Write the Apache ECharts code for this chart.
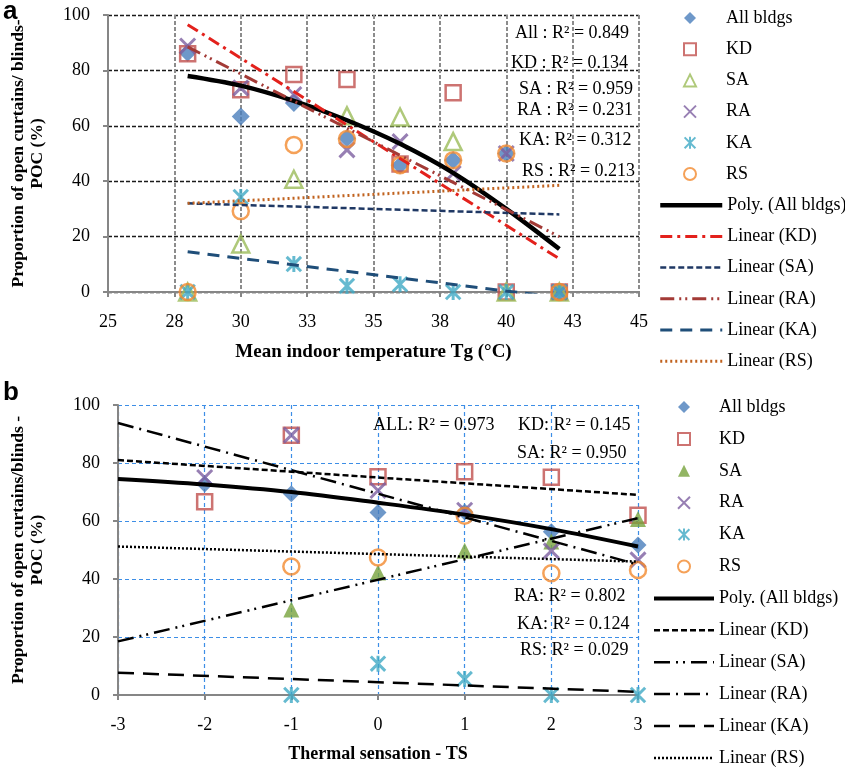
<!DOCTYPE html>
<html><head><meta charset="utf-8">
<script src="https://cdn.jsdelivr.net/npm/echarts@6/dist/echarts.min.js"></script>
<style>html,body{margin:0;padding:0;background:#fff}#c{width:845px;height:769px}</style>
</head><body><div id="c"></div>
<script>
// ---------- Panel a : Mean indoor temperature ----------
const xA = [28, 30, 32, 34, 36, 38, 40, 42];
const allA = [86.4, 63.4, 68.2, 55.5, 45.8, 47.6, 50, 0];
const kdA  = [86, 73, 78.5, 76.7, 46.2, 71.9, 0, 0];
const saA  = [0, 17.3, 40.7, 63.6, 63.2, 54.3, 0, 0];
const raA  = [88.8, 73.7, 71.3, 51.3, 54.3, 42.8, 50, 0];
const kaA  = [0, 34.3, 10.1, 2.2, 2.8, 0, 0, 0];
const rsA  = [0, 29.2, 53.1, 55.2, 45.8, 47.6, 50, 0];
const polyA = [78, 74.5, 69, 62, 53.5, 43, 30, 15.5];
const trendXA = [28, 42];
const linKDA = [96.5, 12];
const linSAA = [32, 28];
const linRAA = [88.5, 20];
const linKAA = [14.5, -2];
const linRSA = [32, 38.5];
const xTicksA = ['25', '28', '30', '33', '35', '38', '40', '43', '45'];
const r2A = ['All : R\u00b2 = 0.849', 'KD : R\u00b2 = 0.134', 'SA : R\u00b2 = 0.959',
             'RA : R\u00b2 = 0.231', 'KA: R\u00b2 = 0.312', 'RS : R\u00b2 = 0.213'];

// ---------- Panel b : Thermal sensation ----------
const xB = [-2, -1, 0, 1, 2, 3];
const allB = [72.8, 69.4, 62.9, 63.1, 56.3, 51.7];
const kdB  = [66.6, 89.6, 75.3, 77, 75.1, 62];
const saB  = [null, 29.5, 42.2, 49.7, 52.9, 60.7];
const raB  = [75, 89.6, 70.5, 63.7, 49.7, 46.6];
const kaB  = [null, 0, 10.8, 5.5, 0, 0];
const rsB  = [null, 44.3, 47.4, 61.8, 42, 43.1];
const polyXB = [-3, -2, -1, 0, 1, 2, 3];
const polyB = [74.5, 72.6, 70, 66.3, 62.2, 57.2, 51.2];
const trendXB = [-3, 3];
const linKDB = [81, 69];
const linSAB = [18.5, 61];
const linRAB = [93.8, 45];
const linKAB = [7.7, 1.1];
const linRSB = [51.2, 46];
const xTicksB = ['-3', '-2', '-1', '0', '1', '2', '3'];
const r2B = ['ALL: R\u00b2 = 0.973', 'KD: R\u00b2 = 0.145', 'SA: R\u00b2 = 0.950',
             'RA: R\u00b2 = 0.802', 'KA: R\u00b2 = 0.124', 'RS: R\u00b2 = 0.029'];

const yTicks = ['0', '20', '40', '60', '80', '100'];
const pointNames = ['All bldgs', 'KD', 'SA', 'RA', 'KA', 'RS'];

// ---------- helpers ----------
const SERIF = 'Liberation Serif';
const X_PATH = 'path://M0,0L10,10M10,0L0,10';
const STAR_PATH = 'path://M5,0L5,10M0.5,0.5L9.5,9.5M9.5,0.5L0.5,9.5';
const T = 'rgba(0,0,0,0)';
const pairs = (xs, ys) => xs.map((x, i) => [x, ys[i]]).filter(p => p[1] !== null);

function scatter(name, gi, data, symbol, size, fill, stroke, bw) {
  return { type: 'scatter', name, xAxisIndex: gi, yAxisIndex: gi, data, symbol, symbolSize: size,
    symbolKeepAspect: true,
    itemStyle: { color: fill, borderColor: stroke, borderWidth: bw }, z: 3, silent: true };
}
function line(name, gi, data, color, width, type, smooth) {
  return { type: 'line', name, xAxisIndex: gi, yAxisIndex: gi, data, symbol: 'none', showSymbol: false,
    smooth: smooth ? 0.35 : false, clip: true,
    lineStyle: { color, width, type, cap: 'butt' }, itemStyle: { color: T, borderWidth: 0 }, z: 4, silent: true };
}

// line styles
const A_LINES = [
  ['a:Poly. (All bldgs)', '#000000', 4.5, 'solid'],
  ['a:Linear (KD)', '#e3211c', 3, [12, 5, 3, 5]],
  ['a:Linear (SA)', '#1f3864', 2.5, [6, 3]],
  ['a:Linear (RA)', '#a33a36', 3, [14, 5, 2, 4, 2, 5]],
  ['a:Linear (KA)', '#1f4e79', 3, [12, 8]],
  ['a:Linear (RS)', '#c0621e', 3, [2, 3]]
];
const B_LINES = [
  ['b:Poly. (All bldgs)', '#000000', 4, 'solid'],
  ['b:Linear (KD)', '#000000', 2.5, [6, 3]],
  ['b:Linear (SA)', '#000000', 2.5, [16, 6, 2, 5, 2, 6]],
  ['b:Linear (RA)', '#000000', 2.5, [16, 6, 2, 6]],
  ['b:Linear (KA)', '#000000', 2.5, [16, 9]],
  ['b:Linear (RS)', '#000000', 2.5, [2, 2]]
];

const series = [
  scatter('a:All bldgs', 0, pairs(xA, allA), 'diamond', 18, '#4a7ebb', '#4a7ebb', 0),
  scatter('a:KD', 0, pairs(xA, kdA), 'rect', 15, T, '#c0504d', 2.5),
  scatter('a:SA', 0, pairs(xA, saA), 'triangle', 17, T, '#9bbb59', 2.5),
  scatter('a:RA', 0, pairs(xA, raA), X_PATH, 15, T, '#7d5fa0', 3),
  scatter('a:KA', 0, pairs(xA, kaA), STAR_PATH, 16, T, '#3fa9c4', 3),
  scatter('a:RS', 0, pairs(xA, rsA), 'circle', 16, T, '#f38a2e', 2.5),
  line(A_LINES[0][0], 0, pairs(xA, polyA), A_LINES[0][1], A_LINES[0][2], A_LINES[0][3], true),
  line(A_LINES[1][0], 0, pairs(trendXA, linKDA), A_LINES[1][1], A_LINES[1][2], A_LINES[1][3]),
  line(A_LINES[2][0], 0, pairs(trendXA, linSAA), A_LINES[2][1], A_LINES[2][2], A_LINES[2][3]),
  line(A_LINES[3][0], 0, pairs(trendXA, linRAA), A_LINES[3][1], A_LINES[3][2], A_LINES[3][3]),
  line(A_LINES[4][0], 0, pairs(trendXA, linKAA), A_LINES[4][1], A_LINES[4][2], A_LINES[4][3]),
  line(A_LINES[5][0], 0, pairs(trendXA, linRSA), A_LINES[5][1], A_LINES[5][2], A_LINES[5][3]),

  scatter('b:All bldgs', 1, pairs(xB, allB), 'diamond', 17, '#4a7ebb', '#4a7ebb', 0),
  scatter('b:KD', 1, pairs(xB, kdB), 'rect', 15, T, '#c0504d', 2.5),
  scatter('b:SA', 1, pairs(xB, saB), 'triangle', 16, '#77a33c', '#77a33c', 0),
  scatter('b:RA', 1, pairs(xB, raB), X_PATH, 15, T, '#7d5fa0', 3),
  scatter('b:KA', 1, pairs(xB, kaB), STAR_PATH, 16, T, '#3fa9c4', 3),
  scatter('b:RS', 1, pairs(xB, rsB), 'circle', 16, T, '#f38a2e', 2.5),
  line(B_LINES[0][0], 1, pairs(polyXB, polyB), B_LINES[0][1], B_LINES[0][2], B_LINES[0][3], true),
  line(B_LINES[1][0], 1, pairs(trendXB, linKDB), B_LINES[1][1], B_LINES[1][2], B_LINES[1][3]),
  line(B_LINES[2][0], 1, pairs(trendXB, linSAB), B_LINES[2][1], B_LINES[2][2], B_LINES[2][3]),
  line(B_LINES[3][0], 1, pairs(trendXB, linRAB), B_LINES[3][1], B_LINES[3][2], B_LINES[3][3]),
  line(B_LINES[4][0], 1, pairs(trendXB, linKAB), B_LINES[4][1], B_LINES[4][2], B_LINES[4][3]),
  line(B_LINES[5][0], 1, pairs(trendXB, linRSB), B_LINES[5][1], B_LINES[5][2], B_LINES[5][3])
];

const lineLegendData = lines => lines.map(l => ({ name: l[0], itemStyle: { opacity: 0, borderWidth: 0, color: T },
  lineStyle: { color: l[1], width: l[2], type: l[3], cap: 'butt' } }));

const axisGray = '#868686';
const lblStyle = { fontFamily: SERIF, fontSize: 18, color: '#000' };
const nameStyle = { fontFamily: SERIF, fontSize: 17.5, fontWeight: 'bold', color: '#000', lineHeight: 19 };

function xAxis(gi, min, max, interval, ticks, name, gridColor, gridW, gridType, gap, nameSize) {
  return { gridIndex: gi, type: 'value', min, max, interval,
    axisLine: { show: true, onZero: false, lineStyle: { color: axisGray, width: 2 } },
    axisTick: { show: true, length: 5, lineStyle: { color: axisGray, width: 2 } },
    axisLabel: { ...lblStyle, margin: 21, showMinLabel: true, showMaxLabel: true,
      formatter: v => ticks[Math.round((v - min) / interval)] },
    splitLine: { show: true, lineStyle: { color: gridColor, width: gridW, type: gridType } },
    name, nameLocation: 'middle', nameGap: gap, nameMoveOverlap: false,
    nameTextStyle: { ...nameStyle, fontSize: nameSize } };
}
function yAxis(gi, name, gridColor, gridW, gridType, gap) {
  return { gridIndex: gi, type: 'value', min: 0, max: 100, interval: 20,
    axisLine: { show: true, onZero: false, lineStyle: { color: axisGray, width: 2 } },
    axisTick: { show: true, length: 5, lineStyle: { color: axisGray, width: 2 } },
    axisLabel: { ...lblStyle, margin: 18, showMinLabel: true, showMaxLabel: true,
      formatter: v => yTicks[Math.round(v / 20)] },
    splitLine: { show: true, lineStyle: { color: gridColor, width: gridW, type: gridType } },
    name, nameLocation: 'middle', nameGap: gap, nameRotate: 90, nameMoveOverlap: false,
    nameTextStyle: { ...nameStyle } };
}

// annotation layout (pixel positions of the R² boxes)
const r2APos = [[515, 33], [511, 63], [519, 89], [517, 110], [519, 140], [522, 171]];
const r2BPos = [[373, 425], [518, 425], [517, 453], [514, 596], [517, 624], [520, 650]];
const graphics = [
  { type: 'text', x: 3, y: 12, style: { text: 'a', font: 'bold 26px "Liberation Sans"', fill: '#000', verticalAlign: 'middle' } },
  { type: 'text', x: 3, y: 393, style: { text: 'b', font: 'bold 26px "Liberation Sans"', fill: '#000', verticalAlign: 'middle' } }
];
r2A.forEach((t, i) => graphics.push({ type: 'text', x: r2APos[i][0], y: r2APos[i][1], z: 10,
  style: { text: t, font: '18px "Liberation Serif"', fill: '#000', align: 'left', verticalAlign: 'middle' } }));
r2B.forEach((t, i) => graphics.push({ type: 'text', x: r2BPos[i][0], y: r2BPos[i][1], z: 10,
  style: { text: t, font: '18px "Liberation Serif"', fill: '#000', align: 'left', verticalAlign: 'middle' } }));

const legendText = { fontFamily: SERIF, fontSize: 18, color: '#000', lineHeight: 18 };
const legendBase = { orient: 'vertical', padding: 0, itemHeight: 12, selectedMode: false,
  textStyle: legendText, formatter: n => n.slice(2) };
// point legends: narrow icon box, text pushed right to line up with line legends
const ptLegend = (prefix, left, top, gap, textPad) => ({ ...legendBase, left, top, itemWidth: 12, itemGap: gap,
  textStyle: { ...legendText, padding: [0, 0, 0, textPad] }, data: pointNames.map(n => prefix + n) });
const lnLegend = (lines, left, top, width, gap) => ({ ...legendBase, left, top, itemWidth: width, itemGap: gap,
  data: lineLegendData(lines) });

const option = {
  animation: false,
  backgroundColor: '#fff',
  grid: [
    { left: 108, top: 15, width: 531, height: 277, containLabel: false, outerBoundsMode: 'none' },
    { left: 118, top: 405, width: 520, height: 290, containLabel: false, outerBoundsMode: 'none' }
  ],
  xAxis: [
    xAxis(0, 25, 45, 2.5, xTicksA, 'Mean indoor temperature Tg (\u00b0C)', '#8c8c8c', 2, [4, 2], 51, 19),
    xAxis(1, -3, 3, 1, xTicksB, 'Thermal sensation - TS', '#3d8ee6', 1.2, [4, 3], 50, 18)
  ],
  yAxis: [
    yAxis(0, 'Proportion of open curtains/ blinds-\nPOC (%)', '#1a1a1a', 1.3, [4, 2], 61),
    yAxis(1, 'Proportion of open curtains/blinds -\nPOC (%)', '#3d8ee6', 1.2, [4, 3], 71)
  ],
  legend: [
    ptLegend('a:', 683, 9, 13.2, 25),
    lnLegend(A_LINES, 658, 9 + 6 * 31.2, 62, 13.2),
    ptLegend('b:', 677, 398, 13.9, 24),
    lnLegend(B_LINES, 652, 398 + 6 * 31.9, 60, 13.9)
  ],
  graphic: graphics,
  series
};

const chart = echarts.init(document.getElementById('c'), null, { renderer: 'canvas', width: 845, height: 769 });
chart.setOption(option);
</script>
</body></html>
